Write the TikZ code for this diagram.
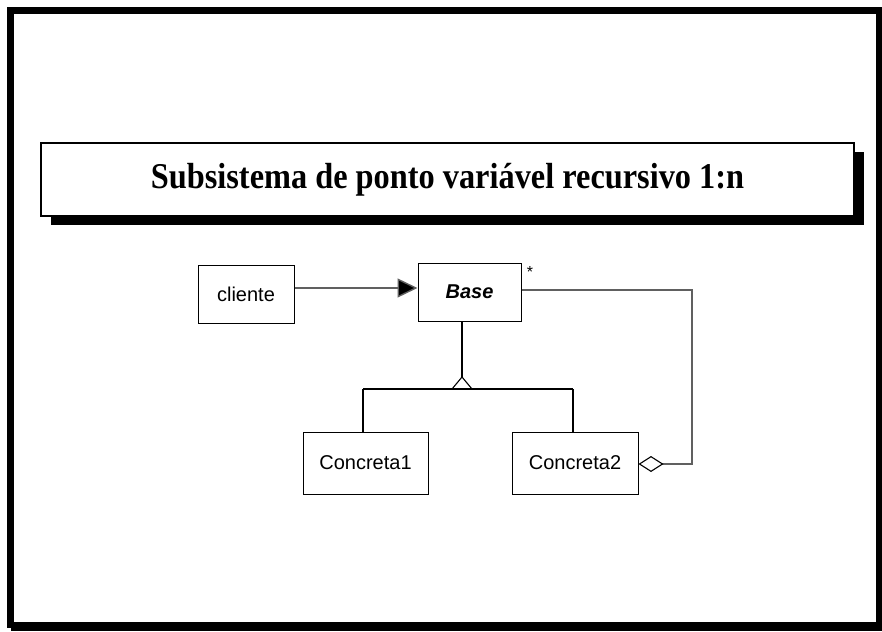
\documentclass[tikz,border=0pt]{standalone}
\usepackage{fontspec}
\setmainfont{Liberation Serif}
\newfontfamily\arialf{Liberation Sans}
\usetikzlibrary{arrows.meta,calc}
\definecolor{linegray}{RGB}{96,96,96}
\tikzset{
  cls/.style={draw=black, line width=1pt, fill=white, rectangle, inner sep=0pt,
    font=\arialf\fontsize{20}{23}\selectfont},
  conn/.style={draw=linegray, line width=1.4pt},
  gen/.style={draw=black, line width=1.1pt},
}
\begin{document}
\begin{tikzpicture}[x=1pt,y=-1pt]
\useasboundingbox (0,0) rectangle (882,631);
% outer frame
\fill[black] (7,7) rectangle (882,631);
\fill[white] (14,14) rectangle (876,622);
\fill[white] (7,628) rectangle (11,631);
% title
\fill[black] (51,152) rectangle (864,225);
\node[draw=black, line width=2.6pt, fill=white, rectangle, inner sep=0pt,
  minimum width=813pt, minimum height=73pt,
  font=\bfseries\fontsize{33}{36}\selectfont] (title) at (447.5,179.5)
  {\scalebox{0.98}[1.1]{Subsistema de ponto variável recursivo 1:n}};
% classes
\node[cls, minimum width=96pt, minimum height=58pt] (cliente) at (246,294.5) {cliente};
\node[cls, minimum width=103pt, minimum height=58pt, font=\arialf\bfseries\itshape\fontsize{20}{23}\selectfont] (base) at (469.5,292) {Base};
\node[cls, minimum width=125pt, minimum height=62pt] (c1) at (365.5,463) {Concreta1};
\node[cls, minimum width=126pt, minimum height=62pt] (c2) at (575,463) {Concreta2};
\node[font=\arialf\fontsize{16}{18}\selectfont, inner sep=0pt] (star) at (530,272) {*};
% association
\coordinate (ay) at (0,288);
\draw[conn, -{Triangle[length=20pt,width=19pt,fill=black]}] (cliente.east |- ay) -- (base.west |- ay);
% generalization
\coordinate (apex) at (462,377);
\coordinate (gl) at (363,389);
\coordinate (gr) at (573,389);
\draw[gen] (base.south -| apex) -- (apex);
\draw[gen, fill=white, line join=miter] (apex) -- (452,389) -- (472,389) -- cycle;
\draw[gen] (gl) -- (gr);
\draw[gen] (gl) -- (c1.north -| gl);
\draw[gen] (gr) -- (c2.north -| gr);
% aggregation
\coordinate (ry) at (0,290);
\coordinate (rx) at (692,464);
\draw[conn, -{Diamond[open,length=25pt,width=16pt,line width=1.1pt,color=black]}]
  (base.east |- ry) -- (rx |- ry) -- (rx) -- (c2.east |- rx);
\end{tikzpicture}
\end{document}
